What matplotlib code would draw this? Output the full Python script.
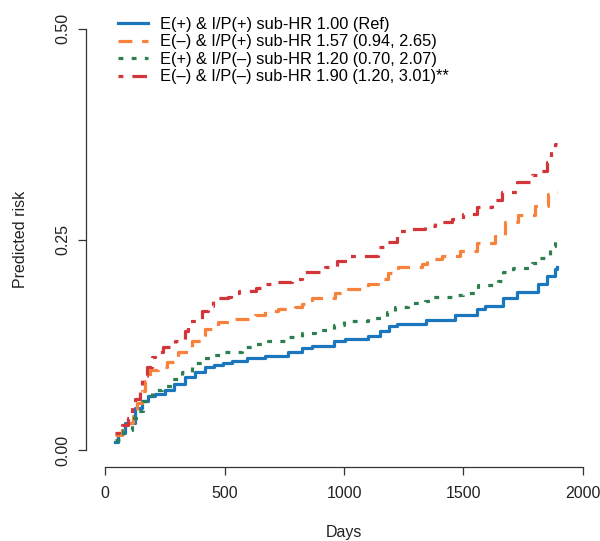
import matplotlib
matplotlib.use('Agg')
import matplotlib.pyplot as plt

plt.rcParams['font.family'] = ['Liberation Sans', 'DejaVu Sans']
plt.rcParams['lines.scale_dashes'] = False

# step curves (days, predicted risk)
t_blue = [40, 55, 85, 125, 155, 180, 210, 250, 290, 335, 375, 420, 455, 495, 530, 595, 670,
          765, 825, 865, 960, 1005, 1100, 1150, 1190, 1220, 1345, 1465, 1555, 1590, 1665,
          1725, 1810, 1850, 1885, 1890]
r_blue = [0.010, 0.020, 0.032, 0.050, 0.058, 0.064, 0.067, 0.071, 0.079, 0.087, 0.093, 0.099,
          0.101, 0.103, 0.106, 0.109, 0.112, 0.117, 0.121, 0.124, 0.129, 0.132, 0.136, 0.141,
          0.147, 0.150, 0.154, 0.160, 0.168, 0.171, 0.180, 0.188, 0.197, 0.207, 0.215, 0.217]

t_orange = [40, 71, 96, 117, 134, 155, 167, 188, 222, 259, 305, 364, 418, 473, 544, 628, 669,
            724, 795, 824, 866, 962, 1017, 1100, 1142, 1184, 1226, 1326, 1347, 1410, 1485,
            1556, 1632, 1674, 1728, 1799, 1854, 1885, 1890]
r_orange = [0.018, 0.024, 0.032, 0.041, 0.056, 0.070, 0.082, 0.095, 0.099, 0.105, 0.117, 0.130,
            0.144, 0.152, 0.156, 0.160, 0.165, 0.168, 0.170, 0.174, 0.180, 0.186, 0.191, 0.197,
            0.203, 0.210, 0.217, 0.221, 0.227, 0.230, 0.236, 0.246, 0.254, 0.271, 0.279, 0.290,
            0.304, 0.306, 0.306]

t_green = [40, 75, 113, 138, 159, 176, 197, 238, 280, 322, 364, 406, 448, 490, 573, 615, 682,
           766, 824, 879, 960, 1000, 1100, 1180, 1213, 1268, 1339, 1368, 1456, 1500, 1561,
           1644, 1665, 1707, 1787, 1808, 1849, 1862, 1885, 1890]
r_green = [0.012, 0.024, 0.038, 0.047, 0.058, 0.064, 0.071, 0.076, 0.085, 0.093, 0.103, 0.109,
           0.113, 0.117, 0.122, 0.126, 0.130, 0.134, 0.139, 0.143, 0.148, 0.153, 0.157, 0.164,
           0.170, 0.175, 0.177, 0.182, 0.184, 0.186, 0.196, 0.201, 0.212, 0.216, 0.222, 0.228,
           0.232, 0.242, 0.250, 0.250]

t_red = [40, 71, 96, 113, 126, 146, 155, 176, 197, 209, 243, 293, 335, 347, 406, 431, 452, 515,
         527, 561, 632, 669, 711, 782, 824, 920, 970, 1015, 1142, 1180, 1222, 1263, 1339, 1381,
         1452, 1498, 1556, 1619, 1661, 1724, 1787, 1808, 1849, 1865, 1885, 1890]
r_red = [0.020, 0.030, 0.038, 0.052, 0.061, 0.073, 0.088, 0.099, 0.111, 0.117, 0.122, 0.130,
         0.141, 0.153, 0.165, 0.171, 0.180, 0.182, 0.186, 0.189, 0.193, 0.197, 0.199, 0.203,
         0.211, 0.217, 0.224, 0.231, 0.241, 0.247, 0.260, 0.263, 0.266, 0.271, 0.274, 0.280,
         0.288, 0.297, 0.306, 0.318, 0.326, 0.331, 0.342, 0.355, 0.363, 0.363]

labels = ['E(+) & I/P(+) sub-HR 1.00 (Ref)',
          'E(\u2013) & I/P(+) sub-HR 1.57 (0.94, 2.65)',
          'E(+) & I/P(\u2013) sub-HR 1.20 (0.70, 2.07)',
          'E(\u2013) & I/P(\u2013) sub-HR 1.90 (1.20, 3.01)**']

fig = plt.figure(figsize=(6, 5.41), dpi=100)
ax = fig.add_axes([86 / 600, 1 - 467 / 541, 516 / 600, 455 / 541])

lw = 2.3
ax.step(t_blue, r_blue, where='post', color='#1a76bd', lw=lw, label=labels[0])
ax.step(t_orange, r_orange, where='post', color='#f8823b', lw=lw, dashes=(10, 7), label=labels[1])
ax.step(t_green, r_green, where='post', color='#2e7f4f', lw=lw, dashes=(3.5, 6), label=labels[2])
ax.step(t_red, r_red, where='post', color='#d3363a', lw=lw, dashes=(3.5, 6.5, 10.5, 6.5), label=labels[3])

ax.set_xlim(-80, 2080)
ax.set_ylim(-0.02, 0.52)
ax.set_xticks([0, 500, 1000, 1500, 2000])
ax.set_yticks([0, 0.25, 0.5])
ax.set_yticklabels(['0.00', '0.25', '0.50'], rotation=90, va='center')

for s in ['top', 'right']:
    ax.spines[s].set_visible(False)
ax.spines['left'].set_bounds(0, 0.5)
ax.spines['bottom'].set_bounds(0, 2000)
for s in ['left', 'bottom']:
    ax.spines[s].set_linewidth(0.9)
    ax.spines[s].set_color('#333333')
ax.tick_params(direction='out', length=6, width=0.9, color='#333333', labelsize=11.5, labelcolor='#222222')
ax.tick_params(axis='x', pad=8)
ax.tick_params(axis='y', pad=5)

ax.set_xlabel('Days', fontsize=11.5, color='#222222', labelpad=17)
ax.set_ylabel('Predicted risk', fontsize=11.5, color='#222222', labelpad=20)

ax.legend(loc='upper left', bbox_to_anchor=(118 / 600, 1 - 17 / 541), bbox_transform=fig.transFigure,
          frameon=False, fontsize=11.8, handlelength=1.8, handletextpad=0.75,
          labelspacing=0.15, borderpad=0, borderaxespad=0)

fig.savefig('out.png', dpi=100)
